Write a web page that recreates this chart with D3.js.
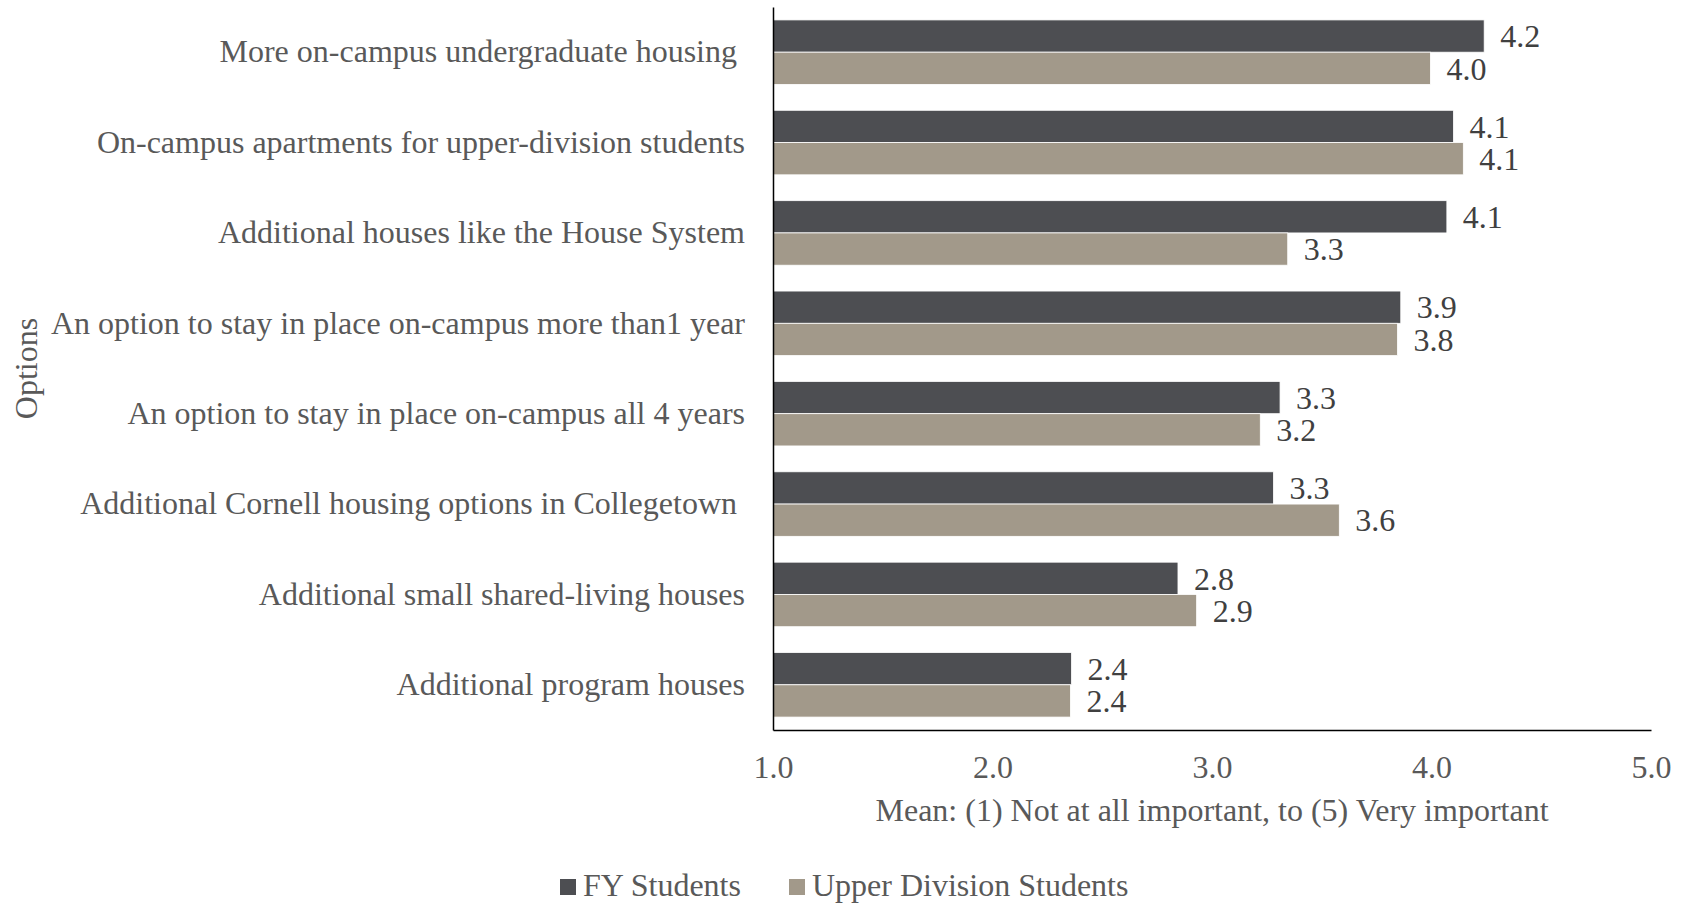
<!DOCTYPE html>
<html>
<head>
<meta charset="utf-8">
<script src="https://cdn.jsdelivr.net/npm/d3@7"></script>
<style>
  body { margin: 0; background: #fff; }
  text { font-family: "Liberation Serif", "Times New Roman", serif; }
</style>
</head>
<body>
<div id="chart"></div>
<script>
// categories, top to bottom (trailing spaces kept as in the source)
const options = [
  "More on-campus undergraduate housing ",
  "On-campus apartments for upper-division students",
  "Additional houses like the House System",
  "An option to stay in place on-campus more than1 year",
  "An option to stay in place on-campus all 4 years",
  "Additional Cornell housing options in Collegetown ",
  "Additional small shared-living houses",
  "Additional program houses"
];
const seriesNames = ["FY Students", "Upper Division Students"];
const fyValues = [4.24, 4.10, 4.07, 3.86, 3.31, 3.28, 2.845, 2.36];
const upperValues = [3.995, 4.145, 3.345, 3.845, 3.22, 3.58, 2.93, 2.355];
const xTicks = [1, 2, 3, 4, 5];

const colors = ["#4d4e52", "#a2998a"];

const W = 1688, H = 905;
const margin = { top: 7, right: 37, bottom: 175, left: 773 };
const width = W - margin.left - margin.right;
const height = H - margin.top - margin.bottom;

const svg = d3.select("#chart")
  .append("svg")
  .attr("width", W)
  .attr("height", H);

const g = svg.append("g")
  .attr("transform", "translate(" + margin.left + "," + margin.top + ")");

const x = d3.scaleLinear().domain([1, 5]).range([0, width]);
const y = d3.scaleBand().domain(options).range([0, height])
  .paddingInner(0.286).paddingOuter(0.143);
const ySub = d3.scaleBand().domain([0, 1]).range([0, y.bandwidth()]);

// rows of data built from the arrays
const rows = options.map(function(o, i) {
  return { option: o, vals: [fyValues[i], upperValues[i]] };
});

const groups = g.selectAll("g.grp")
  .data(rows)
  .enter().append("g")
  .attr("class", "grp")
  .attr("transform", function(d) { return "translate(0," + y(d.option) + ")"; });

groups.selectAll("rect")
  .data(function(d) { return d.vals; })
  .enter().append("rect")
  .attr("x", 0)
  .attr("y", function(d, i) { return ySub(i); })
  .attr("width", function(d) { return x(d) - x(1); })
  .attr("height", ySub.bandwidth())
  .attr("fill", function(d, i) { return colors[i]; })
  .attr("stroke", "#ffffff")
  .attr("stroke-width", 0.8);

groups.selectAll("text.val")
  .data(function(d) { return d.vals; })
  .enter().append("text")
  .attr("class", "val")
  .attr("x", function(d) { return x(d) + 16; })
  .attr("y", function(d, i) { return ySub(i) + ySub.bandwidth() / 2; })
  .attr("dy", "0.35em")
  .style("font-size", "32px")
  .attr("fill", "#404040")
  .text(function(d) { return d3.format(".1f")(d); });

// x axis
const xAxis = g.append("g")
  .attr("transform", "translate(0," + height + ")")
  .call(d3.axisBottom(x).tickValues(xTicks).tickFormat(d3.format(".1f"))
    .tickSize(0).tickSizeOuter(0).tickPadding(25));
xAxis.select(".domain").attr("stroke", "#000").attr("stroke-width", 1.5);
xAxis.selectAll("text").style("font-size", "32px").attr("fill", "#595959");

// y axis
const yAxis = g.append("g")
  .call(d3.axisLeft(y).tickSize(0).tickSizeOuter(0).tickPadding(28));
yAxis.select(".domain").attr("stroke", "#000").attr("stroke-width", 1.5);
yAxis.selectAll("text")
  .style("font-size", "32px")
  .style("white-space", "pre")
  .attr("fill", "#595959");

// axis titles
g.append("text")
  .attr("x", width / 2)
  .attr("y", height + 91)
  .attr("text-anchor", "middle")
  .style("font-size", "32px")
  .attr("fill", "#595959")
  .text("Mean: (1) Not at all important, to (5) Very important");

svg.append("text")
  .attr("transform", "translate(37," + (margin.top + height / 2) + ") rotate(-90)")
  .attr("text-anchor", "middle")
  .style("font-size", "32px")
  .attr("fill", "#595959")
  .text("Options");

// legend
const legendX = [560, 789];
const legend = svg.append("g");
const items = legend.selectAll("g")
  .data(seriesNames)
  .enter().append("g")
  .attr("transform", function(d, i) { return "translate(" + legendX[i] + ",879)"; });
items.append("rect")
  .attr("width", 16)
  .attr("height", 16)
  .attr("fill", function(d, i) { return colors[i]; });
items.append("text")
  .attr("x", 23)
  .attr("y", 17)
  .style("font-size", "32px")
  .attr("fill", "#595959")
  .text(function(d) { return d; });
</script>
</body>
</html>
